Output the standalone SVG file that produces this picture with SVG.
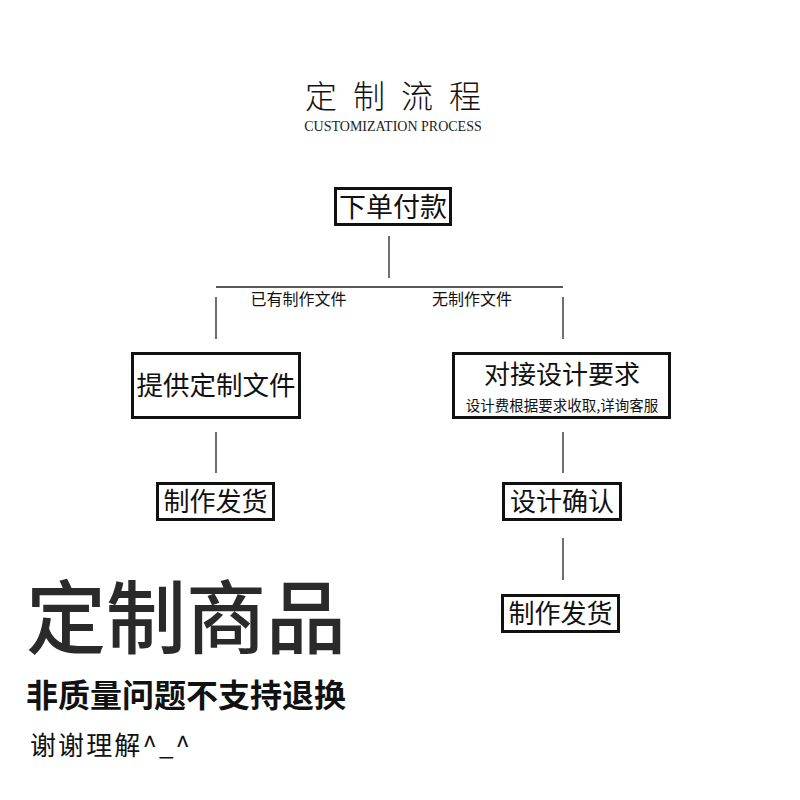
<svg xmlns="http://www.w3.org/2000/svg" width="800" height="800" viewBox="0 0 800 800">
<style>
.cjk{font-family:"Noto Sans CJK SC","Noto Sans",sans-serif;fill:#111}
.box{fill:#fff;stroke:#111;stroke-width:3}
.ln{stroke:#222;stroke-width:1.3;fill:none}
</style>
<rect width="800" height="800" fill="#fff"/>
<g id="title">
<text x="305" y="108" class="cjk" font-size="32" font-weight="300" letter-spacing="16">定制流程</text>
<text x="393" y="131" text-anchor="middle" font-family="Liberation Serif,serif" font-size="14" fill="#222">CUSTOMIZATION PROCESS</text>
</g>
<g id="connectors">
<line class="ln" x1="389" y1="236" x2="389" y2="278"/>
<line class="ln" x1="216" y1="287" x2="563" y2="287"/>
<line class="ln" x1="216" y1="297" x2="216" y2="339"/>
<line class="ln" x1="563" y1="297" x2="563" y2="339"/>
<line class="ln" x1="216" y1="432" x2="216" y2="473"/>
<line class="ln" x1="563" y1="432" x2="563" y2="473"/>
<line class="ln" x1="563" y1="538" x2="563" y2="580"/>
<text x="298.5" y="305" text-anchor="middle" class="cjk" font-size="16">已有制作文件</text>
<text x="472" y="305" text-anchor="middle" class="cjk" font-size="16">无制作文件</text>
</g>
<g id="n-order">
<rect class="box" x="335.5" y="188.5" width="115" height="36"/>
<text x="393" y="217" text-anchor="middle" class="cjk" font-size="27">下单付款</text>
</g>
<g id="n-provide">
<rect class="box" x="132.5" y="353.5" width="167" height="64"/>
<text x="216" y="395" text-anchor="middle" class="cjk" font-size="26.5">提供定制文件</text>
</g>
<g id="n-design">
<rect class="box" x="453.5" y="353.5" width="216" height="64"/>
<text x="562" y="384" text-anchor="middle" class="cjk" font-size="26">对接设计要求</text>
<text x="562" y="411" text-anchor="middle" class="cjk" font-size="14.5">设计费根据要求收取,详询客服</text>
</g>
<g id="n-ship-left">
<rect class="box" x="157.5" y="483.5" width="116" height="36"/>
<text x="215.5" y="511" text-anchor="middle" class="cjk" font-size="26">制作发货</text>
</g>
<g id="n-confirm">
<rect class="box" x="503.5" y="483.5" width="117" height="36"/>
<text x="562" y="511" text-anchor="middle" class="cjk" font-size="26">设计确认</text>
</g>
<g id="n-ship-right">
<rect class="box" x="502.5" y="595.5" width="116" height="36"/>
<text x="560.5" y="623" text-anchor="middle" class="cjk" font-size="26">制作发货</text>
</g>
<g id="notice">
<text x="26" y="647" class="cjk" font-size="80" font-weight="500" style="fill:#2a2a2a">定制商品</text>
<text x="26" y="707" class="cjk" font-size="32" font-weight="700">非质量问题不支持退换</text>
<text x="30" y="755" class="cjk" font-size="26" textLength="160" lengthAdjust="spacing">谢谢理解^_^</text>
</g>
</svg>
